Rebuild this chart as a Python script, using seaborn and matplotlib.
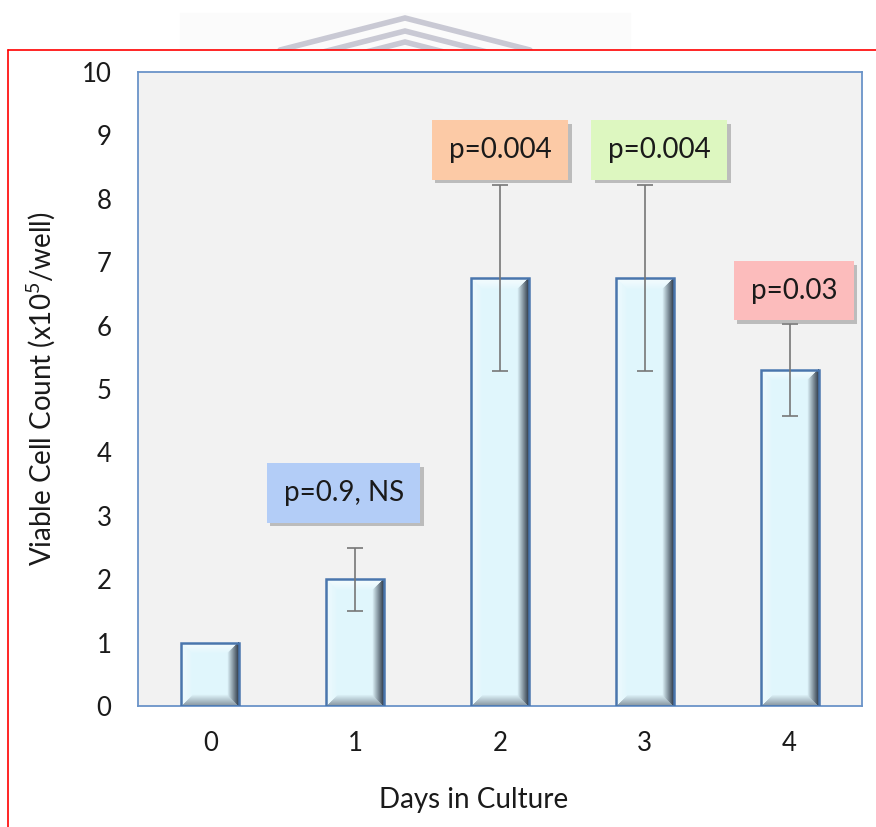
import numpy as np
import pandas as pd
import matplotlib
matplotlib.use("Agg")
import matplotlib.pyplot as plt
import seaborn as sns
from matplotlib import patheffects as pe
from matplotlib.lines import Line2D
from matplotlib.patches import Rectangle

# data
days = ["0", "1", "2", "3", "4"]
cell_count = [1.0, 2.0, 6.75, 6.75, 5.3]
count_err = [0.0, 0.5, 1.47, 1.47, 0.72]
p_labels = ["", "p=0.9, NS", "p=0.004", "p=0.004", "p=0.03"]
p_colors = [None, "#b3cdf7", "#fccaa6", "#ddf7c0", "#fcbcbc"]

df = pd.DataFrame({"day": days, "count": cell_count})

sns.set_style("white")
plt.rcParams["font.family"] = ["Lato", "DejaVu Sans"]
plt.rcParams["mathtext.default"] = "regular"

W, H = 876, 827
fig = plt.figure(figsize=(W / 100, H / 100), dpi=100)


def fx(px):
    return px / W


def fy(py):
    return 1 - py / H


# faint watermark behind the top edge
fig.add_artist(Rectangle((fx(180), fy(50)), fx(450), fy(13) - fy(50),
                         transform=fig.transFigure, color="#fbfbfb", zorder=0))
for apex, half in [(18, 125), (31, 100), (42, 80)]:
    fig.add_artist(Line2D([fx(405 - half), fx(405), fx(405 + half)],
                          [fy(apex + half * 0.256), fy(apex), fy(apex + half * 0.256)],
                          transform=fig.transFigure, color="#c9c9d4", lw=4,
                          solid_joinstyle="miter", zorder=1, clip_on=False))
# red border from the screenshot
fig.add_artist(Rectangle((fx(8), 0), 1 - fx(8), fy(50), transform=fig.transFigure,
                         color="white", zorder=1))
fig.add_artist(Line2D([fx(8), 1], [fy(50), fy(50)], transform=fig.transFigure,
                      color="red", lw=1.2, zorder=5))
fig.add_artist(Line2D([fx(8), fx(8)], [fy(50), 0], transform=fig.transFigure,
                      color="red", lw=1.2, zorder=5))

ax = fig.add_axes([fx(138), fy(706), fx(862) - fx(138), fy(72) - fy(706)])
ax.set_zorder(2)
ax.set_facecolor("#f2f2f2")

sns.barplot(x="day", y="count", data=df, color="#e0f6fc", saturation=1,
            width=0.4, errorbar=None, edgecolor="#4a76ad", linewidth=1.8, ax=ax)

# bevelled look for the bars
px_per_x, px_per_y = 144.8, 63.4
base = np.array([0.88, 0.965, 0.99])
side_col = [np.array([1.0, 1.0, 1.0]), np.array([0.12, 0.16, 0.22]),
            np.array([1.0, 1.0, 1.0]), np.array([0.42, 0.47, 0.52])]
side_amt = [0.45, 0.9, 0.7, 0.75]
for patch in ax.patches:
    x0, y0 = patch.get_x(), patch.get_y()
    w, h = patch.get_width(), patch.get_height()
    ncol = max(int(w * px_per_x), 4)
    nrow = max(int(h * px_per_y), 4)
    cc, rr = np.meshgrid(np.arange(ncol), np.arange(nrow))
    d = np.stack([cc, ncol - 1 - cc, rr, nrow - 1 - rr])
    side = d.argmin(axis=0)
    dist = d.min(axis=0)
    bev = 11.0
    f = np.clip(1 - dist / bev, 0, 1)
    img = np.tile(base, (nrow, ncol, 1))
    for s in range(4):
        m = side == s
        k = (f[m] * side_amt[s])[:, None]
        img[m] = img[m] * (1 - k) + side_col[s] * k
    ax.imshow(img, extent=[x0, x0 + w, y0, y0 + h], aspect="auto",
              interpolation="bilinear", zorder=2)
    patch.set_facecolor("none")
    patch.set_zorder(3)

# error bars
idx = [i for i, e in enumerate(count_err) if e > 0]
ax.errorbar(idx, [cell_count[i] for i in idx], yerr=[count_err[i] for i in idx],
            fmt="none", ecolor="#777777", elinewidth=1.2, capsize=6,
            capthick=1.2, zorder=4)

# p-value boxes
box_pos = [None, (0.92, 3.36), (2.0, 8.77), (3.1, 8.77), (4.03, 6.55)]
for lab, col, pos in zip(p_labels, p_colors, box_pos):
    if not lab:
        continue
    t = ax.text(pos[0], pos[1], lab, ha="center", va="center", fontsize=20,
                color="#1a1a1a", zorder=6,
                bbox=dict(boxstyle="square,pad=0.6", fc=col, ec="none"))
    t.get_bbox_patch().set_path_effects([
        pe.SimplePatchShadow(offset=(2.5, -2.5), shadow_rgbFace="#888888", alpha=0.5),
        pe.Normal()])

ax.set_xlim(-0.5, 4.5)
ax.set_ylim(0, 10)
ax.set_yticks(range(0, 11))
for s in ax.spines.values():
    s.set_color("#6a93c8")
    s.set_linewidth(1.3)
ax.tick_params(axis="both", length=0, labelsize=18.5, colors="#1a1a1a")
ax.tick_params(axis="x", pad=18)
ax.tick_params(axis="y", pad=19)

ax.set_xlabel("Days in Culture", fontsize=20, color="#1a1a1a", va="center")
ax.xaxis.set_label_coords(0.464, -0.148)
ax.set_ylabel("Viable Cell Count (x10$^{5}$/well)", fontsize=20,
              color="#1a1a1a", va="center", ha="center")
ax.yaxis.set_label_coords(-0.135, 0.5)

fig.savefig("out.png", dpi=100)
